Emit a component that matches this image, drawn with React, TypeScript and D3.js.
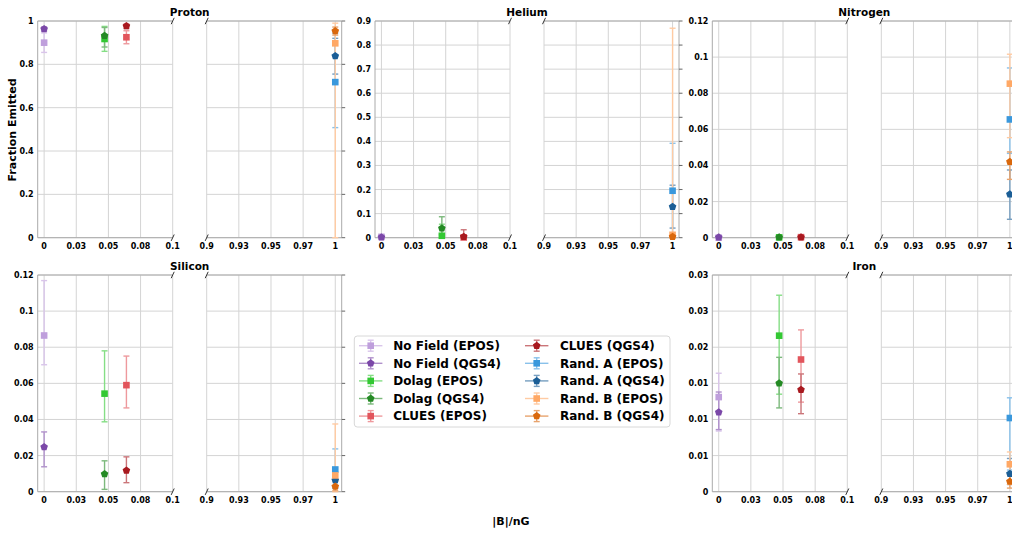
import React from 'react';
import * as d3 from 'd3';

// series (legend order)
const SERIES = [
  'No Field (EPOS)', 'No Field (QGS4)', 'Dolag (EPOS)', 'Dolag (QGS4)', 'CLUES (EPOS)',
  'CLUES (QGS4)', 'Rand. A (EPOS)', 'Rand. A (QGS4)', 'Rand. B (EPOS)', 'Rand. B (QGS4)',
];
const COLORS = [
  '#bf9fdc', '#7b48a8', '#33c833', '#248a24', '#e2555c',
  '#a8191f', '#3a98dc', '#1b5e96', '#ffa865', '#d9680d',
];
const IS_EPOS = [true, false, true, false, true, false, true, false, true, false];
const B_FIELD = [0, 0, 0.047, 0.047, 0.064, 0.064, 1, 1, 1, 1];

// fraction emitted, lower / upper error bounds
const protonVal = [0.90, 0.963, 0.917, 0.932, 0.925, 0.977, 0.718, 0.838, 0.897, 0.954];
const protonLo = [0.855, 0.953, 0.86, 0.88, 0.895, 0.965, 0.508, 0.755, 0.0, 0.935];
const protonHi = [0.945, 0.973, 0.975, 0.97, 0.955, 0.985, 0.943, 0.92, 0.99, 0.972];

const heliumVal = [0.003, 0.002, 0.008, 0.039, 0.001, 0.004, 0.195, 0.129, 0.012, 0.004];
const heliumLo = [0, 0, 0, 0.012, 0, 0, 0.0, 0.04, 0, 0];
const heliumHi = [0.014, 0.008, 0.056, 0.087, 0.005, 0.033, 0.392, 0.218, 0.87, 0.01];

const nitrogenVal = [0, 0.0002, 0.0002, 0.0002, 0.0003, 0.0003, 0.0655, 0.024, 0.0853, 0.042];
const nitrogenLo = [0, 0, 0, 0, 0, 0, 0.0467, 0.0102, 0.0554, 0.0323];
const nitrogenHi = [0, 0.0005, 0.0005, 0.0005, 0.0006, 0.0006, 0.094, 0.0375, 0.1016, 0.0475];

const siliconVal = [0.0865, 0.0248, 0.0543, 0.0098, 0.059, 0.0118, 0.0123, 0.0064, 0.009, 0.0029];
const siliconLo = [0.0703, 0.0138, 0.0387, 0.0013, 0.0464, 0.005, 0.002, 0.002, 0.0, 0.0005];
const siliconHi = [0.1169, 0.0331, 0.078, 0.0171, 0.0751, 0.0193, 0.0237, 0.011, 0.0375, 0.006];

const ironVal = [0.0131, 0.011, 0.0216, 0.015, 0.0183, 0.0141, 0.0102, 0.0025, 0.0038, 0.0014];
const ironLo = [0.0084, 0.0086, 0.0135, 0.0116, 0.0124, 0.0108, 0.003, 0.001, 0.001, 0.0005];
const ironHi = [0.0164, 0.0138, 0.0272, 0.0186, 0.0224, 0.0163, 0.013, 0.0046, 0.0055, 0.0025];

// ticks
const X_LEFT_TICKS = [0, 0.025, 0.05, 0.075, 0.1];
const X_LEFT_LABELS = ['0', '0.03', '0.05', '0.08', '0.1'];
const X_RIGHT_TICKS = [0.9, 0.925, 0.95, 0.975, 1];
const X_RIGHT_LABELS = ['0.9', '0.93', '0.95', '0.97', '1'];

const PROTON_TICKS = [0, 0.2, 0.4, 0.6, 0.8, 1];
const PROTON_LABELS = ['0', '0.2', '0.4', '0.6', '0.8', '1'];
const HELIUM_TICKS = [0, 0.1, 0.2, 0.3, 0.4, 0.5, 0.6, 0.7, 0.8, 0.9];
const HELIUM_LABELS = ['0', '0.1', '0.2', '0.3', '0.4', '0.5', '0.6', '0.7', '0.8', '0.9'];
const MID_TICKS = [0, 0.02, 0.04, 0.06, 0.08, 0.1, 0.12];
const MID_LABELS = ['0', '0.02', '0.04', '0.06', '0.08', '0.1', '0.12'];
const IRON_TICKS = [0, 0.005, 0.01, 0.015, 0.02, 0.025, 0.03];
const IRON_LABELS = ['0', '0.01', '0.01', '0.01', '0.02', '0.03', '0.03'];

const FONT = '"DejaVu Sans", sans-serif';
const COL_X = [37.7, 375, 712.3];
const ROW_TOP = [21, 275];
const PH = 216.7;
const SUB_W = 135;
const GAP = 34;

// error bars look like the marker colour faded on white
const errColor = (i: number) => d3.interpolateRgb('#ffffff', COLORS[i])(0.6);

function pentagon(r: number) {
  const pts = d3.range(5).map(k => {
    const a = -Math.PI / 2 + (k * 2 * Math.PI) / 5;
    return [r * Math.cos(a), r * Math.sin(a)];
  });
  return 'M' + pts.map(p => p.join(',')).join('L') + 'Z';
}

function Marker({ i, cx, cy }: { i: number; cx: number; cy: number }) {
  if (IS_EPOS[i]) {
    const s = 6.6;
    return <rect x={cx - s / 2} y={cy - s / 2} width={s} height={s} fill={COLORS[i]} />;
  }
  return <path d={pentagon(4)} transform={`translate(${cx},${cy})`} fill={COLORS[i]} />;
}

function ErrBar({ i, cx, y1, y2 }: { i: number; cx: number; y1: number; y2: number }) {
  return (
    <g stroke={errColor(i)} strokeWidth={1.4}>
      <line x1={cx} x2={cx} y1={y1} y2={y2} />
      <line x1={cx - 3} x2={cx + 3} y1={y1} y2={y1} />
      <line x1={cx - 3} x2={cx + 3} y1={y2} y2={y2} />
    </g>
  );
}

type PanelProps = {
  x0: number; y0: number; title: string; yMax: number;
  yTicks: number[]; yLabels: string[]; vals: number[]; lo: number[]; hi: number[];
};

function Panel({ x0, y0, title, yMax, yTicks, yLabels, vals, lo, hi }: PanelProps) {
  const xL = d3.scaleLinear().domain([-0.005, 0.1]).range([x0, x0 + SUB_W]);
  const xR = d3.scaleLinear().domain([0.9, 1.005]).range([x0 + SUB_W + GAP, x0 + 2 * SUB_W + GAP]);
  const y = d3.scaleLinear().domain([0, yMax]).range([y0 + PH, y0]);
  const xOf = (b: number) => (b <= 0.5 ? xL(b) : xR(b));
  const subs = [
    { sx: xL, ticks: X_LEFT_TICKS, labels: X_LEFT_LABELS, a: x0, b: x0 + SUB_W },
    { sx: xR, ticks: X_RIGHT_TICKS, labels: X_RIGHT_LABELS, a: x0 + SUB_W + GAP, b: x0 + 2 * SUB_W + GAP },
  ];
  const bottom = y0 + PH;
  const brk = [x0 + SUB_W, x0 + SUB_W + GAP];
  return (
    <g>
      {subs.map((s, k) => (
        <g key={k}>
          {yTicks.map(t => (
            <line key={'h' + t} x1={s.a} x2={s.b} y1={y(t)} y2={y(t)} stroke="#d4d4d4" strokeWidth={1} />
          ))}
          {s.ticks.map(t => (
            <line key={'v' + t} x1={s.sx(t)} x2={s.sx(t)} y1={y0} y2={bottom} stroke="#d4d4d4" strokeWidth={1} />
          ))}
          <line x1={s.a} x2={s.b} y1={y0} y2={y0} stroke="#aaa" />
          <line x1={s.a} x2={s.b} y1={bottom} y2={bottom} stroke="#aaa" />
          {s.ticks.map((t, j) => (
            <text key={'l' + t} x={s.sx(t)} y={bottom + 11} textAnchor="middle"
              fontFamily={FONT} fontWeight="bold" fontSize={8}>{s.labels[j]}</text>
          ))}
        </g>
      ))}
      <line x1={x0} x2={x0} y1={y0} y2={bottom} stroke="#aaa" />
      <line x1={subs[1].b} x2={subs[1].b} y1={y0} y2={bottom} stroke="#aaa" />
      {yTicks.map((t, j) => (
        <g key={'y' + t}>
          <text x={x0 - 4} y={y(t) + 3} textAnchor="end" fontFamily={FONT} fontWeight="bold" fontSize={8}>
            {yLabels[j]}
          </text>
          <line x1={subs[1].b} x2={subs[1].b + 3.5} y1={y(t)} y2={y(t)} stroke="#666" />
        </g>
      ))}
      {brk.map(bx => (
        <g key={'b' + bx} stroke="#333" strokeWidth={1}>
          <line x1={bx - 1.5} x2={bx + 1.5} y1={y0 + 3.2} y2={y0 - 3.2} />
          <line x1={bx - 1.5} x2={bx + 1.5} y1={bottom + 3.2} y2={bottom - 3.2} />
        </g>
      ))}
      <text x={x0 + SUB_W + GAP / 2} y={y0 - 5.5} textAnchor="middle" fontFamily={FONT}
        fontWeight="bold" fontSize={10.5}>{title}</text>
      {vals.map((v, i) => (
        <ErrBar key={'e' + i} i={i} cx={xOf(B_FIELD[i])} y1={y(hi[i])} y2={y(lo[i])} />
      ))}
      {vals.map((v, i) => (
        <Marker key={'m' + i} i={i} cx={xOf(B_FIELD[i])} cy={y(v)} />
      ))}
    </g>
  );
}

function Legend() {
  const left = 354.3, top = 336, w = 315.7, h = 91;
  const cols = [{ lx: 359, tx: 393.3 }, { lx: 525, tx: 560 }];
  return (
    <g>
      <rect x={left} y={top} width={w} height={h} rx={3} fill="#fff" stroke="#d8d8d8" />
      {SERIES.map((name, i) => {
        const c = cols[Math.floor(i / 5)];
        const cy = 345.7 + (i % 5) * 17.6;
        const cx = c.lx + 11.7;
        return (
          <g key={name}>
            <line x1={c.lx} x2={c.lx + 23.4} y1={cy} y2={cy} stroke={errColor(i)} strokeWidth={1.4} />
            <ErrBar i={i} cx={cx} y1={cy - 5.5} y2={cy + 5.5} />
            <Marker i={i} cx={cx} cy={cy} />
            <text x={c.tx} y={cy + 4.3} fontFamily={FONT} fontWeight="bold" fontSize={12}>{name}</text>
          </g>
        );
      })}
    </g>
  );
}

export default function App() {
  const panels = [
    { col: 0, row: 0, title: 'Proton', yMax: 1, yTicks: PROTON_TICKS, yLabels: PROTON_LABELS, vals: protonVal, lo: protonLo, hi: protonHi },
    { col: 1, row: 0, title: 'Helium', yMax: 0.9, yTicks: HELIUM_TICKS, yLabels: HELIUM_LABELS, vals: heliumVal, lo: heliumLo, hi: heliumHi },
    { col: 2, row: 0, title: 'Nitrogen', yMax: 0.12, yTicks: MID_TICKS, yLabels: MID_LABELS, vals: nitrogenVal, lo: nitrogenLo, hi: nitrogenHi },
    { col: 0, row: 1, title: 'Silicon', yMax: 0.12, yTicks: MID_TICKS, yLabels: MID_LABELS, vals: siliconVal, lo: siliconLo, hi: siliconHi },
    { col: 2, row: 1, title: 'Iron', yMax: 0.03, yTicks: IRON_TICKS, yLabels: IRON_LABELS, vals: ironVal, lo: ironLo, hi: ironHi },
  ];
  return (
    <svg width={1012} height={536} style={{ position: 'absolute', left: 0, top: 0, background: '#fff' }}>
      <rect width={1012} height={536} fill="#fff" />
      {panels.map(p => (
        <Panel key={p.title} x0={COL_X[p.col]} y0={ROW_TOP[p.row]} title={p.title} yMax={p.yMax}
          yTicks={p.yTicks} yLabels={p.yLabels} vals={p.vals} lo={p.lo} hi={p.hi} />
      ))}
      <text transform="translate(16,130) rotate(-90)" textAnchor="middle" fontFamily={FONT}
        fontWeight="bold" fontSize={11}>Fraction Emitted</text>
      <text x={511} y={525} textAnchor="middle" fontFamily={FONT} fontWeight="bold" fontSize={11}>|B|/nG</text>
      <Legend />
    </svg>
  );
}
